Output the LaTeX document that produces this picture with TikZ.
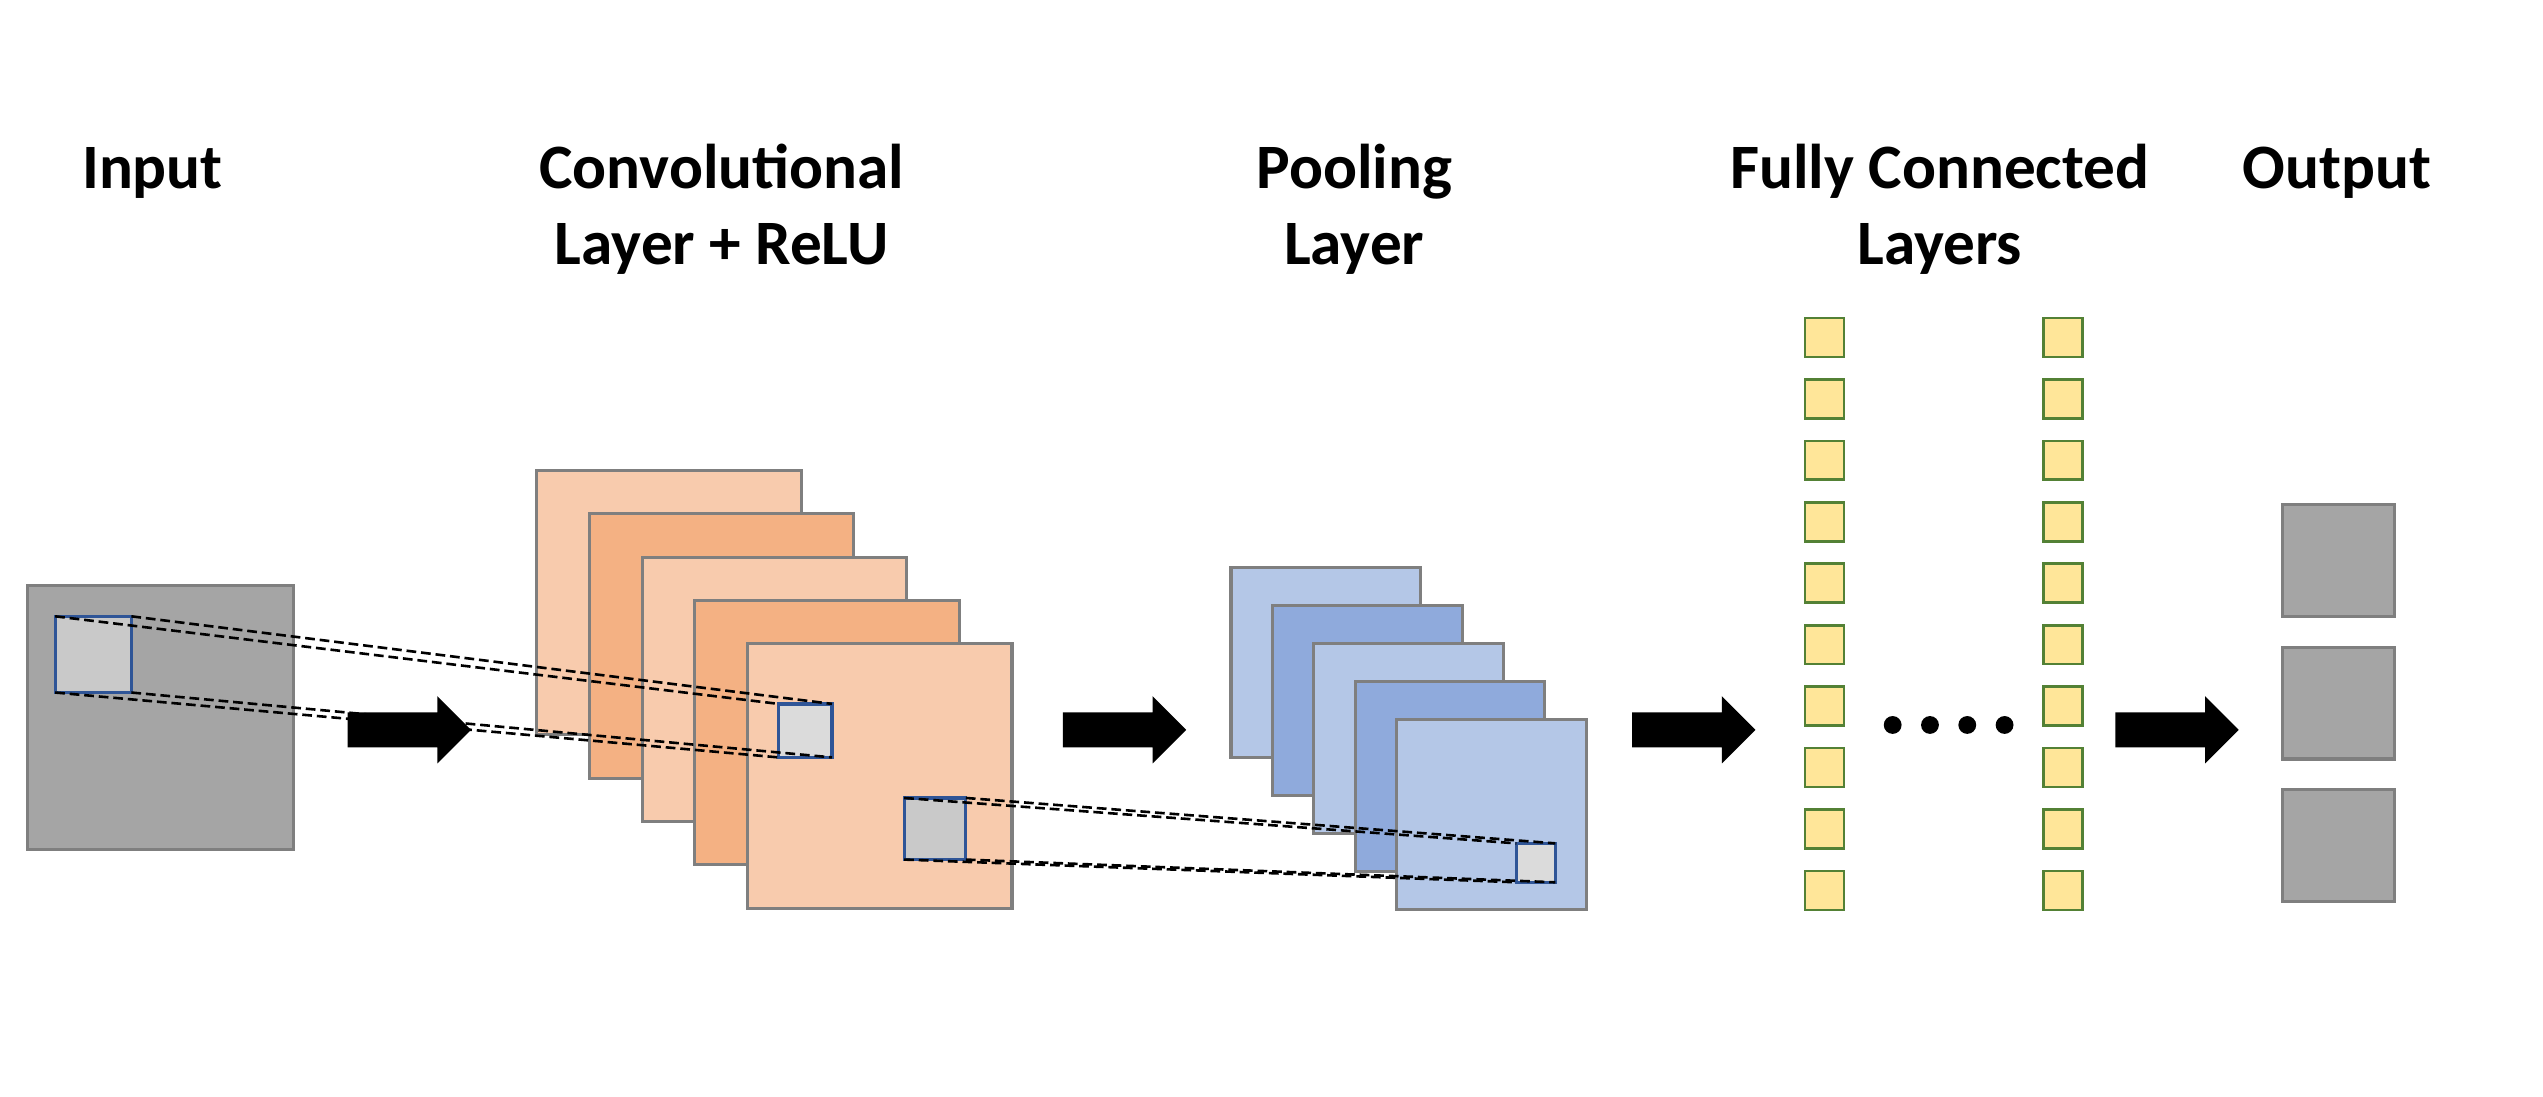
\documentclass[tikz,border=0pt]{standalone}
\usepackage{fontspec}
\setmainfont{Carlito}
\usetikzlibrary{shapes.arrows}

\definecolor{inputgray}{RGB}{165,165,165}
\definecolor{edgegray}{RGB}{127,127,127}
\definecolor{wingray}{RGB}{201,201,201}
\definecolor{winlight}{RGB}{219,219,219}
\definecolor{winblue}{RGB}{47,85,151}
\definecolor{convlight}{RGB}{248,203,173}
\definecolor{convdark}{RGB}{244,177,131}
\definecolor{poollight}{RGB}{180,199,231}
\definecolor{pooldark}{RGB}{143,170,220}
\definecolor{fcyellow}{RGB}{255,230,153}
\definecolor{fcgreen}{RGB}{83,129,53}

\tikzset{every picture/.style={line width=0.75pt},
	headtext/.style={font=\bfseries\fontsize{19.5}{23.5}\selectfont, align=center, anchor=base, inner sep=0pt},
	layerbox/.style={draw=edgegray, line width=0.95pt, inner sep=0pt, outer sep=0pt},
	winbox/.style={draw=winblue, line width=1pt, inner sep=0pt, outer sep=0pt},
	neuron/.style={draw=fcgreen, fill=fcyellow, line width=0.8pt, minimum size=12pt, inner sep=0pt},
	dotmark/.style={circle, fill=black, minimum size=5.5pt, inner sep=0pt},
	blockarrow/.style={single arrow, fill=black, draw=none, minimum height=38pt, minimum width=20pt, single arrow head extend=5pt, inner xsep=0pt, inner ysep=5pt},
	recept/.style={dash pattern=on 3pt off 1.5pt, line width=0.8pt}}

\begin{document}
\begin{tikzpicture}[x=0.5pt,y=0.5pt,yscale=-1,xscale=1]
	\useasboundingbox (0,0) rectangle (1568,676);

	% Text Node
	\node[headtext] (tinput) at (94,116) {Input};
	% Text Node
	\node[headtext] (tconv) at (445,163) {Convolutional\\Layer + ReLU};
	% Text Node
	\node[headtext] (tpool) at (835,163) {Pooling\\Layer};
	% Text Node
	\node[headtext] (tfc) at (1196,163) {Fully Connected\\Layers};
	% Text Node
	\node[headtext] (toutput) at (1441,116) {Output};

	%Shape: Input image
	\node[layerbox, fill=inputgray, minimum width=82pt, minimum height=81.5pt] (input) at (99,442.5) {};
	\node[winbox, fill=wingray, minimum size=23.5pt] (inwin) at (57.5,403.5) {};

	%Shape: Convolution feature maps
	\foreach \i in {1,...,5}{
		\ifodd\i\relax \def\lc{convlight}\else \def\lc{convdark}\fi
		\node[layerbox, fill=\lc, minimum size=81.5pt] (conv\i) at ({380+32.5*\i},{344.75+26.75*\i}) {};
	}
	\node[winbox, fill=winlight, minimum size=16.5pt] (convwin) at (496.5,450.5) {};
	\node[winbox, fill=wingray, minimum size=19pt] (convwinb) at (576.5,511) {};

	%Shape: Pooling feature maps
	\foreach \i in {1,...,5}{
		\ifodd\i\relax \def\lc{poollight}\else \def\lc{pooldark}\fi
		\node[layerbox, fill=\lc, minimum size=58.5pt] (pool\i) at ({792+25.5*\i},{385.1+23.4*\i}) {};
	}
	\node[winbox, fill=winlight, minimum size=12pt] (poolwin) at (947,532) {};

	%Shape: Fully connected units
	\foreach \r in {0,...,9}{
		\node[neuron] (fca\r) at (1125,{208+37.9*\r}) {};
		\node[neuron] (fcb\r) at (1272,{208+37.9*\r}) {};
	}
	\foreach \k in {0,...,3}
		\node[dotmark] (dot\k) at ({1167+23*\k},447) {};

	%Shape: Output units
	\foreach \o in {0,1,2}
		\node[layerbox, fill=inputgray, minimum size=34.5pt] (out\o) at (1442,{345.5+88*\o}) {};

	%Block Arrows
	\node[blockarrow] (arr1) at (247,450) {};
	\node[blockarrow] (arr2) at (688,450) {};
	\node[blockarrow] (arr3) at (1039,450) {};
	\node[blockarrow] (arr4) at (1337,450) {};

	%Straight Lines: receptive fields
	\foreach \c in {north west,north east,south west,south east}{
		\draw[recept] (inwin.\c) -- (convwin.\c);
		\draw[recept] (convwinb.\c) -- (poolwin.\c);
	}

\end{tikzpicture}
\end{document}
